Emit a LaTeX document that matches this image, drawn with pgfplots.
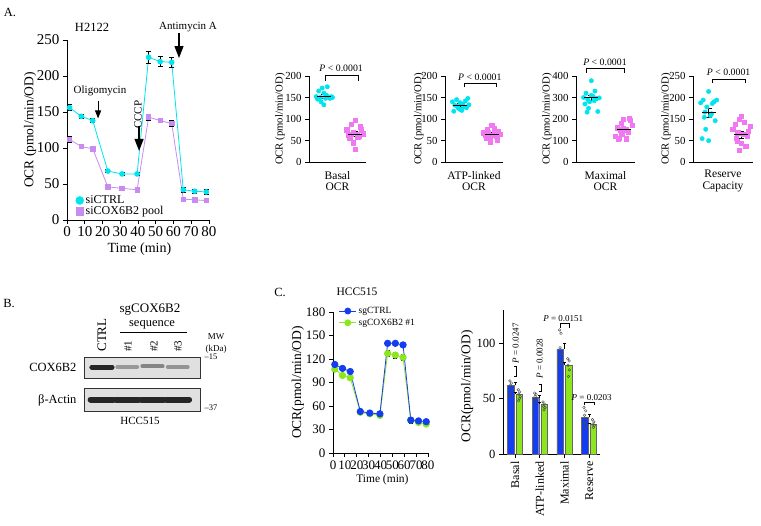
\documentclass[border=0pt]{standalone}
\usepackage{pgfplots}
\pgfplotsset{compat=1.18}
\usepackage{fontspec}
\setmainfont{Liberation Serif}
\usetikzlibrary{arrows.meta}
\definecolor{cyanA}{RGB}{0,228,240}
\definecolor{purpA}{RGB}{200,140,240}
\definecolor{pinkS}{RGB}{240,120,240}
\definecolor{blueC}{RGB}{20,60,240}
\definecolor{greenC}{RGB}{140,230,30}
\newcommand\fsz[1]{\fontsize{#1bp}{#1bp}\selectfont}
\pgfplotsset{
  base/.style={scale only axis, anchor=south west, axis x line*=bottom, axis y line*=left,
    axis line style={-, line width=0.8bp}, tick align=outside, major tick length=4bp,
    every tick/.style={black, line width=0.8bp}, /pgf/number format/assume math mode=true,
    clip=false, ylabel style={anchor=center}, xlabel style={anchor=center}},
  scat/.style={base, xmin=0.57, xmax=2.22, xtick=\empty, ymin=0,
    ticklabel style={font=\fsz{10.8}}, ylabel style={font=\fsz{10.7}},
    xlabel style={font=\fsz{11.5}, align=center, at={(axis description cs:0.5,-0.22)}}},
  meanbar/.style={black, only marks, mark=-, mark size=7bp, line width=0.7bp,
    error bars/.cd, y dir=both, y explicit, error bar style={line width=0.7bp},
    error mark options={rotate=90, mark size=3bp, line width=0.7bp}},
  cyanpts/.style={only marks, mark=*, mark size=2.2bp, cyanA},
  pinkpts/.style={only marks, mark=square*, mark size=2.1bp, pinkS},
  blot/.style={scale only axis, anchor=south west, xmin=0.29, xmax=4.88, ymin=0, ymax=1,
    xtick=\empty, ytick=\empty, axis line style={line width=0.8bp, black!80},
    axis background/.style={fill=black!12}},
}
\begin{document}
\begin{tikzpicture}
\useasboundingbox (0,0) rectangle (761bp,-526bp);

% ---------------- Panel A main ----------------
\node[font=\fsz{12.5}] at (10bp,-12bp) {A.};
\node[font=\fsz{12.5}] at (92bp,-27bp) {H2122};
\begin{axis}[base, at={(67bp,-220bp)}, width=142bp, height=180bp,
  xmin=0, xmax=80, ymin=0, ymax=250, xtick={0,10,...,80}, ytick={0,50,...,250},
  ticklabel style={font=\fsz{15}}, xticklabel style={inner xsep=0pt, inner ysep=2pt},
  ylabel={OCR (pmol/min/OD)}, ylabel style={font=\fsz{13.5}, at={(axis description cs:-0.26,0.5)}},
  xlabel={Time (min)}, xlabel style={font=\fsz{14}, at={(axis description cs:0.51,-0.16)}},
  legend style={at={(axis description cs:0.06,0.01)}, anchor=south west, draw=none, fill=none,
    font=\fsz{12}, row sep=-3bp, inner sep=0pt},
  legend cell align=left]
\addlegendimage{only marks, mark=*, mark size=4bp, color=cyanA}
\addlegendentry{siCTRL}
\addlegendimage{only marks, mark=square*, mark size=3.6bp, color=purpA}
\addlegendentry{siCOX6B2 pool}
\addplot[forget plot, purpA, line width=0.8bp, mark=square*, mark size=2.2bp,
  error bars/.cd, y dir=both, y explicit, error bar style={black, line width=0.7bp},
  error mark options={black, rotate=90, mark size=2.5bp, line width=0.7bp}]
 coordinates {(1.5,112)+-(0,4) (8,102)+-(0,3) (14.5,99)+-(0,3) (23,46)+-(0,2) (31,44)+-(0,2) (39.5,42)+-(0,2)
  (46,143)+-(0,4) (52.5,138)+-(0,3) (59,134)+-(0,4) (65.5,29)+-(0,2) (72,28)+-(0,2) (78.5,27)+-(0,2)};
\addplot[forget plot, cyanA, line width=0.8bp, mark=*, mark size=2.4bp,
  error bars/.cd, y dir=both, y explicit, error bar style={black, line width=0.7bp},
  error mark options={black, rotate=90, mark size=2.5bp, line width=0.7bp}]
 coordinates {(1.5,156)+-(0,4) (8,144)+-(0,3) (14.5,138)+-(0,3) (23,68)+-(0,2) (31,64)+-(0,2) (39.5,64)+-(0,2)
  (46,226)+-(0,8) (52.5,220)+-(0,7) (59,219)+-(0,7) (65.5,42)+-(0,4) (72,40)+-(0,3) (78.5,39)+-(0,4)};
\node[font=\fsz{11}] at (axis cs:18.6,180) {Oligomycin};
\draw[line width=1bp, -{Triangle[width=6bp,length=8bp]}] (axis cs:17.5,165) -- (axis cs:17.5,141);
\node[font=\fsz{11}, rotate=90] at (axis cs:40,146) {CCCP};
\draw[line width=1.3bp, -{Triangle[width=9bp,length=12bp]}] (axis cs:40.6,131) -- (axis cs:40.6,96);
\node[font=\fsz{11}] at (axis cs:68.2,268) {Antimycin A};
\draw[line width=1.3bp, -{Triangle[width=9bp,length=12bp]}] (axis cs:63.1,260) -- (axis cs:63.1,225);
\end{axis}

% ---------------- Scatter panels ----------------
\begin{axis}[scat, at={(309bp,-162bp)}, width=57bp, height=86bp, ymax=200, ytick={0,50,...,200},
  ylabel={OCR (pmol/min/OD)}, ylabel style={at={(axis description cs:-0.51,0.5)}},
  xlabel={Basal\\OCR}]
\addplot[cyanpts] coordinates {(0.78,152)(0.85,165)(0.9,150)(0.95,172)(1.0,160)(1.05,148)(1.1,175)(1.15,150)(1.22,152)(0.82,146)(0.92,140)(1.0,133)(1.08,155)(1.18,148)(1.25,150)};
\addplot[pinkpts] coordinates {(1.66,75)(1.72,62)(1.78,88)(1.84,70)(1.9,98)(1.96,65)(2.02,60)(2.08,75)(2.14,66)(1.75,55)(1.85,45)(1.9,30)(1.98,58)(2.05,82)(1.8,65)};
\addplot[meanbar] coordinates {(1,153)+-(0,5) (1.9,65)+-(0,6)};
\draw[line width=0.6bp] (axis cs:1.03,188) |- (axis cs:1.99,202) -- (axis cs:1.99,188);
\node[font=\fsz{9.8}] at (axis cs:1.5,219) {\textit{P} < 0.0001};
\end{axis}

\begin{axis}[scat, at={(445bp,-162bp)}, width=58bp, height=86bp, ymax=200, ytick={0,50,...,200},
  ylabel={OCR (pmol/min/OD)}, ylabel style={at={(axis description cs:-0.45,0.5)}},
  xlabel={ATP-linked\\OCR}]
\addplot[cyanpts] coordinates {(0.78,140)(0.85,132)(0.9,145)(0.95,125)(1.0,138)(1.05,120)(1.1,128)(1.15,142)(1.22,148)(0.82,118)(0.92,130)(1.0,122)(1.08,135)(1.18,126)(1.25,133)};
\addplot[pinkpts] coordinates {(1.66,68)(1.72,62)(1.78,75)(1.84,58)(1.9,85)(1.96,66)(2.02,60)(2.08,72)(2.14,64)(1.75,55)(1.85,47)(1.9,63)(1.98,78)(2.05,52)(1.8,70)};
\addplot[meanbar] coordinates {(1,132)+-(0,4) (1.9,65)+-(0,4)};
\draw[line width=0.6bp] (axis cs:1.11,174) |- (axis cs:2.02,184) -- (axis cs:2.02,174);
\node[font=\fsz{9.8}] at (axis cs:1.56,198) {\textit{P} < 0.0001};
\end{axis}

\begin{axis}[scat, at={(576bp,-162bp)}, width=59bp, height=86bp, ymax=400, ytick={0,100,...,400},
  ylabel={OCR (pmol/min/OD)}, ylabel style={at={(axis description cs:-0.49,0.5)}},
  xlabel={Maximal\\OCR}]
\addplot[cyanpts] coordinates {(0.78,300)(0.85,320)(0.9,290)(0.95,280)(1.0,378)(1.05,305)(1.1,330)(1.15,295)(1.22,298)(0.82,270)(0.92,250)(1.0,310)(1.08,285)(1.18,235)(0.88,232)};
\addplot[pinkpts] coordinates {(1.66,120)(1.72,160)(1.78,110)(1.84,180)(1.9,200)(1.96,150)(2.02,140)(2.08,195)(2.14,170)(1.75,105)(1.85,130)(1.9,155)(1.98,108)(2.05,205)(1.8,150)};
\addplot[meanbar] coordinates {(1,300)+-(0,12) (1.9,153)+-(0,10)};
\draw[line width=0.6bp] (axis cs:0.85,414) |- (axis cs:1.91,437) -- (axis cs:1.91,414);
\node[font=\fsz{9.8}] at (axis cs:1.38,465) {\textit{P} < 0.0001};
\end{axis}

\begin{axis}[scat, at={(693bp,-162bp)}, width=60bp, height=86bp, ymax=250, ytick={0,62.5,125,187.5,250},
  yticklabels={0,50,150,200,250},
  ylabel={OCR (pmol/min/OD)}, ylabel style={at={(axis description cs:-0.45,0.5)}},
  xlabel={Reserve\\Capacity}]
\addplot[cyanpts] coordinates {(0.78,172)(0.85,180)(0.9,145)(0.95,160)(1.0,205)(1.05,135)(1.1,170)(1.15,175)(1.22,180)(0.82,68)(0.92,95)(1.0,62)(1.08,140)(1.18,120)(0.88,130)};
\addplot[pinkpts] coordinates {(1.66,95)(1.72,110)(1.78,60)(1.84,125)(1.9,133)(1.96,80)(2.02,45)(2.08,90)(2.14,105)(1.75,70)(1.85,35)(1.9,55)(1.98,115)(2.05,75)(1.8,85)};
\addplot[meanbar] coordinates {(1,143)+-(0,12) (1.9,80)+-(0,10)};
\draw[line width=0.6bp] (axis cs:1.09,230) |- (axis cs:2.0,241) -- (axis cs:2.0,230);
\node[font=\fsz{9.8}] at (axis cs:1.55,262) {\textit{P} < 0.0001};
\end{axis}

% ---------------- Panel B blot ----------------
\node[font=\fsz{12.5}] at (9bp,-303bp) {B.};
\node[font=\fsz{13}] at (150bp,-310bp) {sgCOX6B2};
\node[font=\fsz{12.5}] at (152bp,-325bp) {sequence};
\draw[line width=0.7bp] (120bp,-332bp) -- (187bp,-332bp);
\node[font=\fsz{13}, rotate=90] at (102bp,-335bp) {CTRL};
\node[font=\fsz{11}, rotate=90] at (128bp,-346bp) {\#1};
\node[font=\fsz{11}, rotate=90] at (154bp,-346bp) {\#2};
\node[font=\fsz{11}, rotate=90] at (178bp,-346bp) {\#3};
\node[font=\fsz{9}] at (216bp,-337bp) {MW};
\node[font=\fsz{9}] at (216bp,-349bp) {(kDa)};
\node[font=\fsz{12.5}, anchor=east] at (80bp,-367bp) {COX6B2};
\node[font=\fsz{12.5}, anchor=east] at (80bp,-400bp) {β-Actin};
\node[font=\fsz{8.5}, anchor=west] at (201bp,-357bp) {–15};
\node[font=\fsz{8.5}, anchor=west] at (201bp,-408bp) {–37};
\node[font=\fsz{11}] at (140bp,-421bp) {HCC515};
\begin{axis}[blot, at={(84bp,-378bp)}, width=116bp, height=21bp]
\addplot[black!85, line width=5bp, line cap=round] coordinates {(0.6,0.52)(1.4,0.52)};
\addplot[black!40, line width=3.5bp, line cap=round] coordinates {(1.6,0.52)(2.4,0.52)};
\addplot[black!48, line width=4bp, line cap=round] coordinates {(2.6,0.55)(3.4,0.55)};
\addplot[black!42, line width=3.5bp, line cap=round] coordinates {(3.6,0.52)(4.4,0.52)};
\end{axis}
\begin{axis}[blot, at={(84bp,-411bp)}, width=116bp, height=23bp]
\addplot[black!85, line width=6bp, line cap=round] coordinates {(0.55,0.5)(1.45,0.5)};
\addplot[black!85, line width=6bp, line cap=round] coordinates {(1.55,0.5)(2.45,0.5)};
\addplot[black!85, line width=6bp, line cap=round] coordinates {(2.55,0.5)(3.45,0.5)};
\addplot[black!85, line width=6bp, line cap=round] coordinates {(3.55,0.5)(4.45,0.5)};
\end{axis}

% ---------------- Panel C line ----------------
\node[font=\fsz{12.5}] at (280bp,-292bp) {C.};
\node[font=\fsz{11.5}] at (357bp,-292bp) {HCC515};
\begin{axis}[base, at={(333bp,-453bp)}, width=95bp, height=141bp,
  xmin=0, xmax=80, ymin=0, ymax=180, xtick={0,10,...,80}, ytick={0,30,...,180},
  ticklabel style={font=\fsz{13}}, xticklabel style={inner xsep=0pt},
  ylabel={OCR(pmol/min/OD)}, ylabel style={font=\fsz{13.5}, at={(axis description cs:-0.37,0.5)}},
  xlabel={Time (min)}, xlabel style={font=\fsz{11.5}, at={(axis description cs:0.52,-0.19)}},
  legend style={at={(axis description cs:0.06,1.05)}, anchor=north west, draw=none, fill=none,
    font=\fsz{9.5}, row sep=0bp, inner sep=0pt},
  legend cell align=left]
\addlegendimage{blueC, line width=0.8bp, mark=*, mark size=3bp}
\addlegendentry{sgCTRL}
\addlegendimage{greenC, line width=0.8bp, mark=*, mark size=3bp}
\addlegendentry{sgCOX6B2 \#1}
\addplot[forget plot, greenC, line width=0.8bp, mark=*, mark size=3.2bp,
  error bars/.cd, y dir=both, y explicit, error bar style={black, line width=0.6bp},
  error mark options={black, rotate=90, mark size=2bp}]
 coordinates {(1.5,107)+-(0,2) (8,99)+-(0,2) (14.5,96)+-(0,2) (23,52)+-(0,1) (31,50)+-(0,1) (39.5,48)+-(0,1)
  (46,127)+-(0,4) (52.5,125)+-(0,4) (59,122)+-(0,4) (65.5,42)+-(0,3) (72,39)+-(0,1) (78.5,37)+-(0,1)};
\addplot[forget plot, blueC, line width=0.8bp, mark=*, mark size=3.2bp,
  error bars/.cd, y dir=both, y explicit, error bar style={black, line width=0.6bp},
  error mark options={black, rotate=90, mark size=2bp}]
 coordinates {(1.5,113)+-(0,2) (8,108)+-(0,2) (14.5,104)+-(0,2) (23,53)+-(0,1) (31,51)+-(0,1) (39.5,50)+-(0,1)
  (46,140)+-(0,2) (52.5,140)+-(0,2) (59,138)+-(0,2) (65.5,42)+-(0,4) (72,41)+-(0,1) (78.5,40)+-(0,1)};
\end{axis}

% ---------------- Panel C bars ----------------
\begin{axis}[base, at={(503bp,-454bp)}, width=97bp, height=144bp,
  xmin=-0.49, xmax=3.44, ymin=0, ymax=130, ytick={0,50,100},
  xtick={0,1,2,3}, xticklabels={Basal,ATP-linked,Maximal,Reserve},
  xticklabel style={rotate=90, anchor=east, font=\fsz{12}},
  yticklabel style={font=\fsz{12.5}},
  ylabel={OCR(pmol/min/OD)}, ylabel style={font=\fsz{13.4}, at={(axis description cs:-0.37,0.47)}}]
\addplot[ybar, bar width=6.5bp, bar shift=-4.3bp, fill=blueC, draw=black!60, line width=0.4bp,
  error bars/.cd, y dir=plus, y explicit, error bar style={black, line width=0.6bp},
  error mark options={black, rotate=90, mark size=1.5bp}]
 coordinates {(0,62)+-(0,3) (1,51)+-(0,2) (2,95)+-(0,5) (3,33)+-(0,3)};
\addplot[ybar, bar width=6.5bp, bar shift=4.3bp, fill=greenC, draw=black!60, line width=0.4bp,
  error bars/.cd, y dir=plus, y explicit, error bar style={black, line width=0.6bp},
  error mark options={black, rotate=90, mark size=1.5bp}]
 coordinates {(0,54)+-(0,2) (1,45)+-(0,2) (2,80)+-(0,3) (3,27)+-(0,1)};
\addplot[only marks, mark=o, mark size=1.3bp, black!70, fill=white, line width=0.4bp]
 coordinates {(-0.21,66)(-0.15,64)(-0.19,62)(-0.13,58)(-0.17,55)(-0.2,52)
  (0.13,58)(0.19,56)(0.15,54)(0.21,52)(0.17,50)(0.14,48)
  (0.79,55)(0.85,54)(0.81,52)(0.87,50)(0.83,48)
  (1.13,47)(1.19,45)(1.15,43)(1.21,42)(1.17,40)
  (1.8,112)(1.86,109)(1.82,96)(1.87,90)(1.81,84)(1.85,82)
  (2.13,86)(2.19,84)(2.15,80)(2.2,76)(2.16,70)
  (2.79,42)(2.86,39)(2.81,35)(2.87,32)(2.82,28)(2.85,24)
  (3.13,31)(3.19,29)(3.15,27)(3.21,26)(3.17,24)};
\node[font=\fsz{9}, rotate=90] at (axis cs:0.02,100) {\textit{P} = 0.0247};
\draw[line width=0.6bp] (axis cs:-0.05,70) -- (axis cs:0.05,70) -- (axis cs:0.05,79) -- (axis cs:-0.05,79);
\node[font=\fsz{9}, rotate=90] at (axis cs:1.0,86) {\textit{P} = 0.0028};
\draw[line width=0.6bp] (axis cs:0.95,57) -- (axis cs:1.05,57) -- (axis cs:1.05,63) -- (axis cs:0.95,63);
\node[font=\fsz{9}] at (axis cs:1.95,122) {\textit{P} = 0.0151};
\draw[line width=0.6bp] (axis cs:1.82,114) |- (axis cs:2.2,118) -- (axis cs:2.2,114);
\node[font=\fsz{9}] at (axis cs:3.1,51) {\textit{P} = 0.0203};
\draw[line width=0.6bp] (axis cs:2.82,44) |- (axis cs:3.2,47) -- (axis cs:3.2,44);
\end{axis}
\end{tikzpicture}
\end{document}
